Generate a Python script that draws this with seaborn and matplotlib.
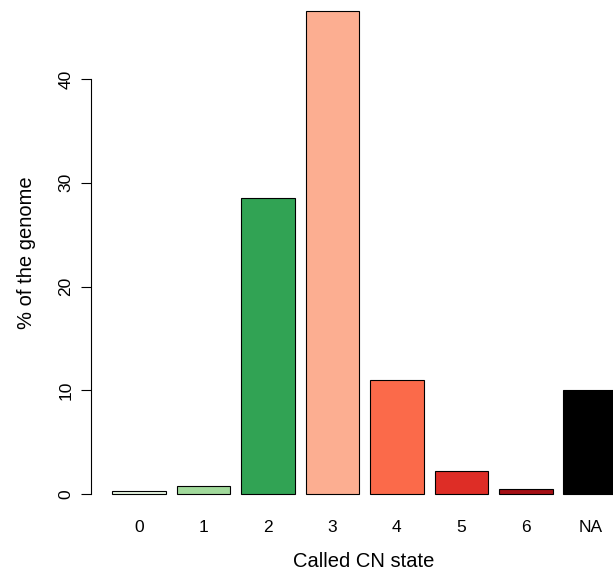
import matplotlib
matplotlib.use("Agg")
import matplotlib.pyplot as plt
import seaborn as sns
import pandas as pd

states = ["0", "1", "2", "3", "4", "5", "6", "NA"]
percent = [0.3, 0.8, 28.5, 46.55, 11.0, 2.2, 0.5, 10.0]
colors = ["#e8f6e3", "#a1d99b", "#31a354", "#fcae91", "#fb6a4a", "#de2d26", "#a50f15", "#000000"]
yticks = [0, 10, 20, 30, 40]

sns.set_style("white")
plt.rcParams["font.family"] = ["Liberation Sans", "DejaVu Sans"]
plt.rcParams["text.color"] = "black"
plt.rcParams["axes.labelcolor"] = "black"
plt.rcParams["xtick.color"] = "black"
plt.rcParams["ytick.color"] = "black"

W, H = 613, 579
fig = plt.figure(figsize=(W / 100, H / 100), dpi=100)
# plot region in pixels (R-style, partly outside the figure)
left_px, right_px, top_px, bottom_px = 91.4, 648.6, -8.0, 513.3
ax = fig.add_axes([left_px / W, 1 - bottom_px / H, (right_px - left_px) / W, (bottom_px - top_px) / H])

df = pd.DataFrame({"state": states, "pct": percent})
sns.barplot(data=df, x="state", y="pct", hue="state", palette=colors, legend=False,
            width=1 / 1.2, edgecolor="black", linewidth=0.8, ax=ax, saturation=1)

ax.set_xlim(-0.7367, 7.903)
ax.set_ylim(-1.86, 48.4)

for s in ["top", "right", "bottom"]:
    ax.spines[s].set_visible(False)
ax.spines["left"].set_bounds(0, 40)
ax.spines["left"].set_color("black")
ax.spines["left"].set_linewidth(0.8)

ax.set_yticks(yticks)
ax.set_yticklabels([str(v) for v in yticks], rotation=90, va="center")
ax.tick_params(axis="y", left=True, direction="out", length=7, width=0.8, colors="black", pad=6, labelsize=12.5)
ax.tick_params(axis="x", bottom=False, length=0, pad=5, labelsize=12.5, colors="black")

ax.set_xlabel("Called CN state", fontsize=14.5, color="black")
ax.set_ylabel("% of the genome", fontsize=14.5, color="black")
ax.xaxis.set_label_coords((364 - left_px) / (right_px - left_px), (bottom_px - 552) / (bottom_px - top_px))
ax.yaxis.set_label_coords((27 - left_px) / (right_px - left_px), 0.5)
ax.yaxis.label.set_va("center")

fig.savefig("out.png", dpi=100)
